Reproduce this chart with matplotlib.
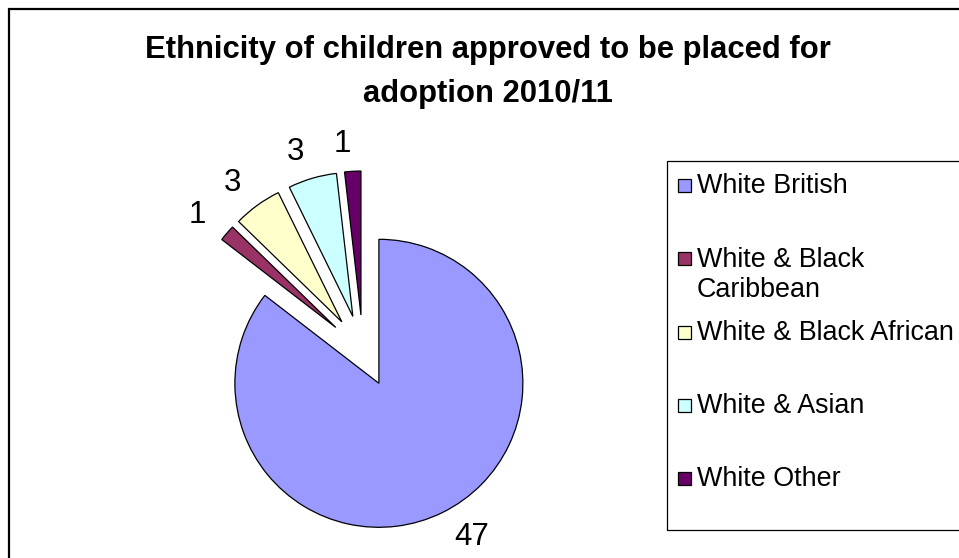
import matplotlib
matplotlib.use("Agg")
import matplotlib.pyplot as plt
from matplotlib.patches import Rectangle

# ---- Data ----
categories = ["White British", "White & Black Caribbean", "White & Black African",
              "White & Asian", "White Other"]
counts = [47, 1, 3, 3, 1]
legend_labels = ["White British", "White & Black\nCaribbean", "White & Black African",
                 "White & Asian", "White Other"]
title_lines = ["Ethnicity of children approved to be placed for", "adoption 2010/11"]

# Excel 2003 style palette
colors = ["#9999FF", "#993366", "#FFFFCC", "#CCFFFF", "#660066"]

plt.rcParams["font.family"] = ["Liberation Sans", "DejaVu Sans"]

W, H = 959, 558
fig = plt.figure(figsize=(W / 100, H / 100), dpi=100)
fig.patch.set_facecolor("white")

def fx(x):
    return x / W

def fy(y):
    return 1 - y / H

# chart frame (runs off the right and bottom edges)
fig.patches.append(Rectangle((fx(8.5), fy(700)), fx(1100), fy(9.5) - fy(700),
                             transform=fig.transFigure, fill=False,
                             edgecolor="black", linewidth=1.6))

# ---- Pie ----
cx, cy, R = 363, 351, 144
ax = fig.add_axes([0, 0, 1, 1])
wedges, texts = ax.pie(counts, colors=colors, startangle=90, counterclock=False,
                       explode=[0.25] * len(counts), radius=1, center=(0, 0),
                       labels=[str(c) for c in counts], labeldistance=1.19,
                       wedgeprops=dict(edgecolor="black", linewidth=0.9),
                       textprops=dict(fontsize=22.5, color="black"))
ax.set_xlim(-cx / R, (W - cx) / R)
ax.set_ylim(-(H - cy) / R, cy / R)
ax.set_aspect("equal")
ax.axis("off")

# ---- Title ----
for i, line in enumerate(title_lines):
    fig.text(fx(488), fy(58 + 44 * i), line, ha="center", va="baseline",
             fontsize=22.3, fontweight="bold", color="black")

# ---- Legend ----
fig.patches.append(Rectangle((fx(667), fy(530)), fx(400), fy(161) - fy(530),
                             transform=fig.transFigure, fill=False,
                             edgecolor="black", linewidth=0.9))
line_px = 31
for i, (lab, col) in enumerate(zip(legend_labels, colors)):
    base = 193 + 73.3 * i
    fig.patches.append(Rectangle((fx(678), fy(base - 1)), fx(13), fy(base - 14) - fy(base - 1),
                                 transform=fig.transFigure, facecolor=col,
                                 edgecolor="black", linewidth=0.9))
    # baseline alignment sits on the last line of a wrapped label
    extra = lab.count("\n") * line_px
    fig.text(fx(697), fy(base + extra), lab, ha="left", va="baseline", fontsize=19.4,
             linespacing=1.2, color="black")

fig.savefig("out.png", dpi=100, facecolor="white")
